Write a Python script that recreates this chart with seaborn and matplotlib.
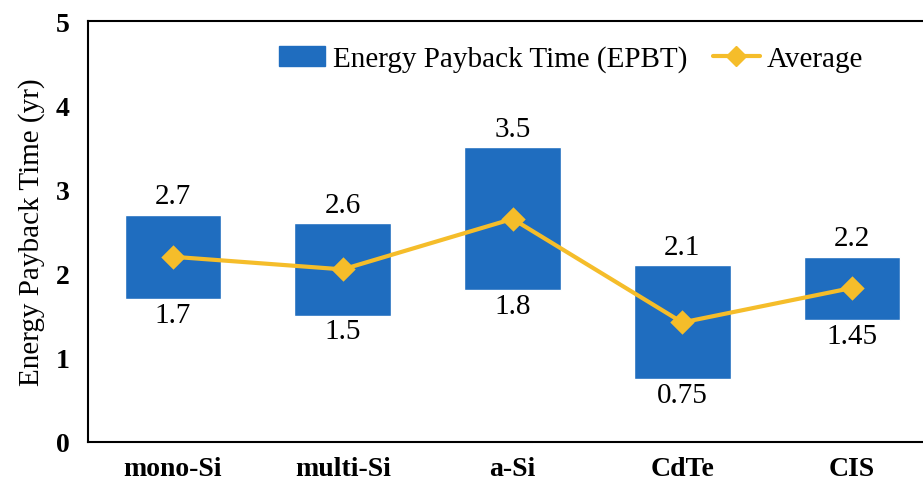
import pandas as pd
import seaborn as sns
import matplotlib.pyplot as plt
from matplotlib.lines import Line2D
from matplotlib.patches import Patch

# %%
tech = ["mono-Si", "multi-Si", "a-Si", "CdTe", "CIS"]
epbt_min = [1.7, 1.5, 1.8, 0.75, 1.45]
epbt_max = [2.7, 2.6, 3.5, 2.1, 2.2]
epbt_avg = [2.2, 2.05, 2.65, 1.42, 1.83]
min_labels = ["1.7", "1.5", "1.8", "0.75", "1.45"]
max_labels = ["2.7", "2.6", "3.5", "2.1", "2.2"]

bar_color = "#1f6dbf"
line_color = "#f5bd2a"

df = pd.DataFrame({"tech": tech, "lo": epbt_min, "hi": epbt_max, "avg": epbt_avg})
df["span"] = df["hi"] - df["lo"]

# %%
sns.set_style("white")
plt.rcParams["font.family"] = ["Liberation Serif", "DejaVu Serif"]
plt.rcParams["text.color"] = "black"
plt.rcParams["axes.labelcolor"] = "black"
plt.rcParams["xtick.color"] = "black"
plt.rcParams["ytick.color"] = "black"

fig = plt.figure(figsize=(9.23, 4.85), dpi=100)
ax = fig.add_axes([88 / 923, 1 - 443 / 485, 849 / 923, 421 / 485])

# floating bars: min -> max
sns.barplot(data=df, x="tech", y="span", bottom=df["lo"], color=bar_color,
            width=0.57, saturation=1, ax=ax)
sns.pointplot(data=df, x="tech", y="avg", color=line_color, markers="D",
              markersize=10, linewidth=3, ax=ax)

# value labels above / below each bar
for i in range(len(tech)):
    ax.annotate(max_labels[i], (i, epbt_max[i]), xytext=(0, 4),
                textcoords="offset points", ha="center", va="bottom", fontsize=21)
    ax.annotate(min_labels[i], (i, epbt_min[i]), xytext=(0, -2),
                textcoords="offset points", ha="center", va="top", fontsize=21)

ax.set_ylim(0, 5)
ax.set_xlim(-0.5, 4.5)
ax.set_xlabel("")
ax.set_ylabel("Energy Payback Time (yr)", fontsize=21, labelpad=8)
ax.tick_params(axis="both", length=0, labelsize=20)
ax.tick_params(axis="x", pad=10)
ax.tick_params(axis="y", pad=13)
for t in ax.get_xticklabels() + ax.get_yticklabels():
    t.set_fontweight("bold")
for s in ["left", "bottom", "top"]:
    ax.spines[s].set_color("black")
    ax.spines[s].set_linewidth(1.5)
ax.spines["right"].set_visible(False)

handles = [Patch(color=bar_color, label="Energy Payback Time (EPBT)"),
           Line2D([], [], color=line_color, lw=3, marker="D", markersize=10,
                  label="Average")]
ax.legend(handles=handles, loc="center", bbox_to_anchor=((571 - 88) / 849, (443 - 60) / 421),
          ncol=2, frameon=False, fontsize=21, handlelength=1.6, columnspacing=0.9,
          handletextpad=0.25, borderpad=0)

fig.savefig("out.png", dpi=100)
